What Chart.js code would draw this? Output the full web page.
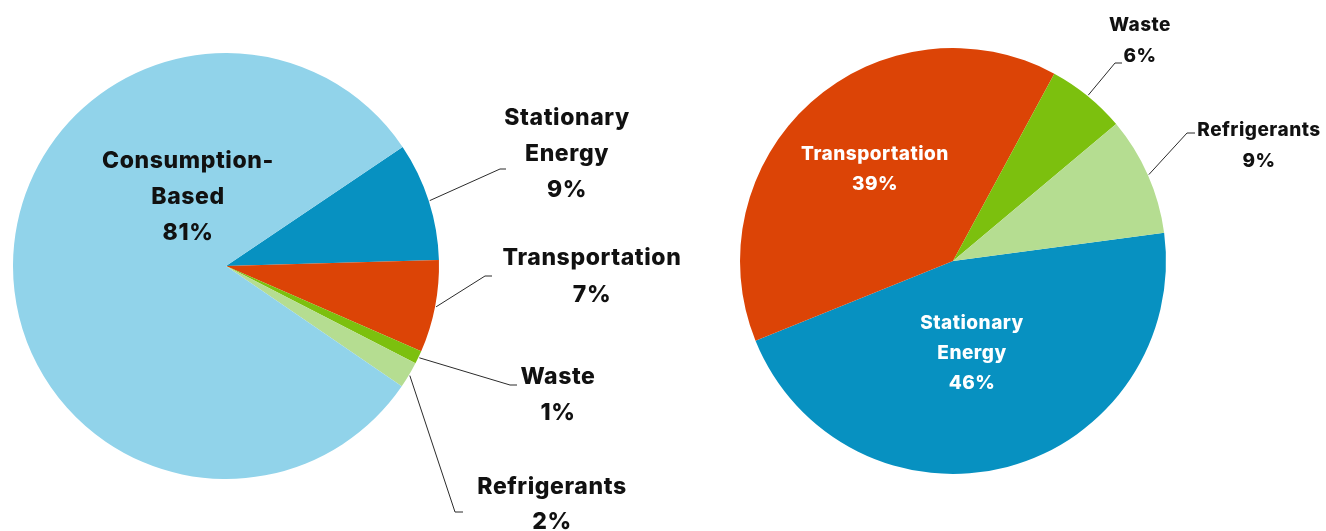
<!DOCTYPE html>
<html>
<head>
<meta charset="utf-8">
<script src="https://cdn.jsdelivr.net/npm/chart.js@4"></script>
<style>
    html, body {
        margin: 0;
        padding: 0;
        background: #ffffff;
    }
    .stage {
        position: relative;
        width: 1326px;
        height: 531px;
    }
    .stage canvas {
        position: absolute;
        left: 0;
        top: 0;
    }
</style>
</head>
<body>
<div class="stage">
    <canvas id="totalChart" width="1326" height="531"></canvas>
    <canvas id="sectorChart" width="1326" height="531"></canvas>
</div>

<script>

// 전체 배출 (소비 기반 포함)
const totalCategories = [
    ['Stationary', 'Energy'],
    ['Transportation'],
    ['Waste'],
    ['Refrigerants'],
    ['Consumption-', 'Based']
];
const totalShares = [9, 7, 1, 2, 81];

// 부문별 배출
const sectorCategories = [
    ['Stationary', 'Energy'],
    ['Transportation'],
    ['Waste'],
    ['Refrigerants']
];
const sectorShares = [46, 39, 6, 9];

const COLORS = {
    stationary: '#0791c1',
    transportation: '#dc4406',
    waste: '#7cc00e',
    refrigerants: '#b5dd91',
    consumption: '#91d3ea'
};

const FONT_FAMILY = 'Inter, "Open Sans", sans-serif';


// 라벨 + 지시선 그리기
const calloutPlugin = {
    id: 'callouts',

    afterDatasetsDraw: function(chart, args, opts) {

        const ctx = chart.ctx;
        const meta = chart.getDatasetMeta(0);
        const labels = chart.data.labels;
        const values = chart.data.datasets[0].data;

        ctx.save();

        (opts.items || []).forEach(function(item) {

            const arc = meta.data[item.index];

            if (item.elbow) {
                const mid = (arc.startAngle + arc.endAngle) / 2;
                const r = arc.outerRadius + 1;
                const px = arc.x + Math.cos(mid) * r;
                const py = arc.y + Math.sin(mid) * r;

                ctx.beginPath();
                ctx.moveTo(px, py);
                ctx.lineTo(item.elbow[0], item.elbow[1]);
                ctx.lineTo(item.elbow[0] + item.tail, item.elbow[1]);
                ctx.strokeStyle = '#2b2b2b';
                ctx.lineWidth = 1;
                ctx.stroke();
            }

            const lines = [].concat(labels[item.index], values[item.index] + '%');

            ctx.font = '800 ' + item.size + 'px ' + FONT_FAMILY;
            ctx.letterSpacing = item.spacing + 'px';
            ctx.fillStyle = item.color || '#111111';
            ctx.textAlign = 'center';
            ctx.textBaseline = 'middle';

            lines.forEach(function(line, i) {
                ctx.fillText(line, item.x, item.y + i * item.lineHeight);
            });
        });

        ctx.restore();
    }
};


function pieOptions(padding, rotation, items) {

    return {
        responsive: false,
        animation: false,
        rotation: rotation,
        layout: {
            padding: padding
        },
        plugins: {
            legend: { display: false },
            tooltip: { enabled: false },
            callouts: { items: items }
        }
    };
}


// 왼쪽 파이
new Chart(document.getElementById('totalChart'), {
    type: 'pie',
    data: {
        labels: totalCategories,
        datasets: [{
            data: totalShares,
            backgroundColor: [
                COLORS.stationary,
                COLORS.transportation,
                COLORS.waste,
                COLORS.refrigerants,
                COLORS.consumption
            ],
            borderWidth: 0
        }]
    },
    options: pieOptions(
        { left: 13, top: 53, right: 887, bottom: 52 },
        56,
        [
            { index: 0, x: 567, y: 118, size: 23, spacing: 0.6, lineHeight: 36, elbow: [500, 169], tail: 6 },
            { index: 1, x: 592, y: 258, size: 23, spacing: 0.6, lineHeight: 37, elbow: [485, 276], tail: 7 },
            { index: 2, x: 558, y: 377, size: 23, spacing: 0.6, lineHeight: 36, elbow: [510, 385], tail: 7 },
            { index: 3, x: 552, y: 487, size: 23, spacing: 0.6, lineHeight: 35, elbow: [455, 512], tail: 8 },
            { index: 4, x: 188, y: 161, size: 23, spacing: 0.6, lineHeight: 36 }
        ]
    ),
    plugins: [calloutPlugin]
});


// 오른쪽 파이
new Chart(document.getElementById('sectorChart'), {
    type: 'pie',
    data: {
        labels: sectorCategories,
        datasets: [{
            data: sectorShares,
            backgroundColor: [
                COLORS.stationary,
                COLORS.transportation,
                COLORS.waste,
                COLORS.refrigerants
            ],
            borderWidth: 0
        }]
    },
    options: pieOptions(
        { left: 740, top: 48, right: 160, bottom: 57 },
        82.4,
        [
            { index: 0, x: 972, y: 323, size: 19, spacing: 0.5, lineHeight: 30, color: '#ffffff' },
            { index: 1, x: 875, y: 154, size: 19, spacing: 0.5, lineHeight: 30, color: '#ffffff' },
            { index: 2, x: 1140, y: 25, size: 19, spacing: 0.5, lineHeight: 31, elbow: [1115, 63], tail: 7 },
            { index: 3, x: 1259, y: 130, size: 19, spacing: 0.5, lineHeight: 31, elbow: [1187, 133], tail: 8 }
        ]
    ),
    plugins: [calloutPlugin]
});

</script>
</body>
</html>
